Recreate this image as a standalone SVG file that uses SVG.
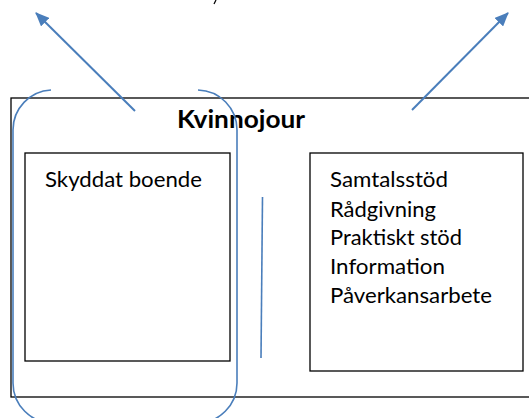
<svg xmlns="http://www.w3.org/2000/svg" width="529" height="418" viewBox="0 0 529 418">
<defs>
<style>
.box{fill:#fff;stroke:#000;stroke-width:1.3}
.blue{fill:none;stroke:#4a7ebb;stroke-width:1.6}
.arrow{fill:none;stroke:#4a7ebb;stroke-width:2}
.t{font-family:Lato,"Open Sans","Liberation Sans",sans-serif;font-size:20.5px;fill:#000}
.title{font-family:Lato,"Open Sans","Liberation Sans",sans-serif;font-size:25px;font-weight:bold;fill:#000}
</style>
<marker id="ah" viewBox="0 0 14 12" refX="13" refY="6" markerWidth="14" markerHeight="12" markerUnits="userSpaceOnUse" orient="auto">
<path d="M0,0 L14,6 L0,12 z" fill="#4a7ebb"/>
</marker>
</defs>
<rect width="529" height="418" fill="#fff"/>
<g id="kvinnojour">
<rect class="box" x="11" y="98" width="530" height="299"/>
<text class="title" x="177" y="128" textLength="128" lengthAdjust="spacingAndGlyphs">Kvinnojour</text>
</g>
<g id="skyddat-boende">
<rect class="box" x="25" y="153" width="205" height="208"/>
<text class="t" x="45" y="187" textLength="157" lengthAdjust="spacingAndGlyphs">Skyddat boende</text>
</g>
<g id="tjanster">
<rect class="box" x="310" y="153" width="213" height="218"/>
<text class="t" x="330" y="187" textLength="118" lengthAdjust="spacingAndGlyphs">Samtalsstöd</text>
<text class="t" x="330" y="217" textLength="106" lengthAdjust="spacingAndGlyphs">Rådgivning</text>
<text class="t" x="330" y="245" textLength="132" lengthAdjust="spacingAndGlyphs">Praktiskt stöd</text>
<text class="t" x="330" y="274" textLength="115" lengthAdjust="spacingAndGlyphs">Information</text>
<text class="t" x="330" y="303" textLength="162" lengthAdjust="spacingAndGlyphs">Påverkansarbete</text>
</g>
<g id="connectors">
<path class="blue" d="M51,90 A40,40 0 0 0 13,130 L13,383 A40,40 0 0 0 53,423"/>
<path class="blue" d="M198,90 A40,40 0 0 1 237,130 L237,383 A40,40 0 0 1 197,423"/>
<line class="blue" x1="262.5" y1="197" x2="261" y2="358"/>
<line class="arrow" x1="135" y1="111" x2="36" y2="13" marker-end="url(#ah)"/>
<line class="arrow" x1="412" y1="110" x2="508" y2="13" marker-end="url(#ah)"/>
<path d="M216,0 L214,4" stroke="#000" stroke-width="1.2" fill="none"/>
</g>
</svg>
